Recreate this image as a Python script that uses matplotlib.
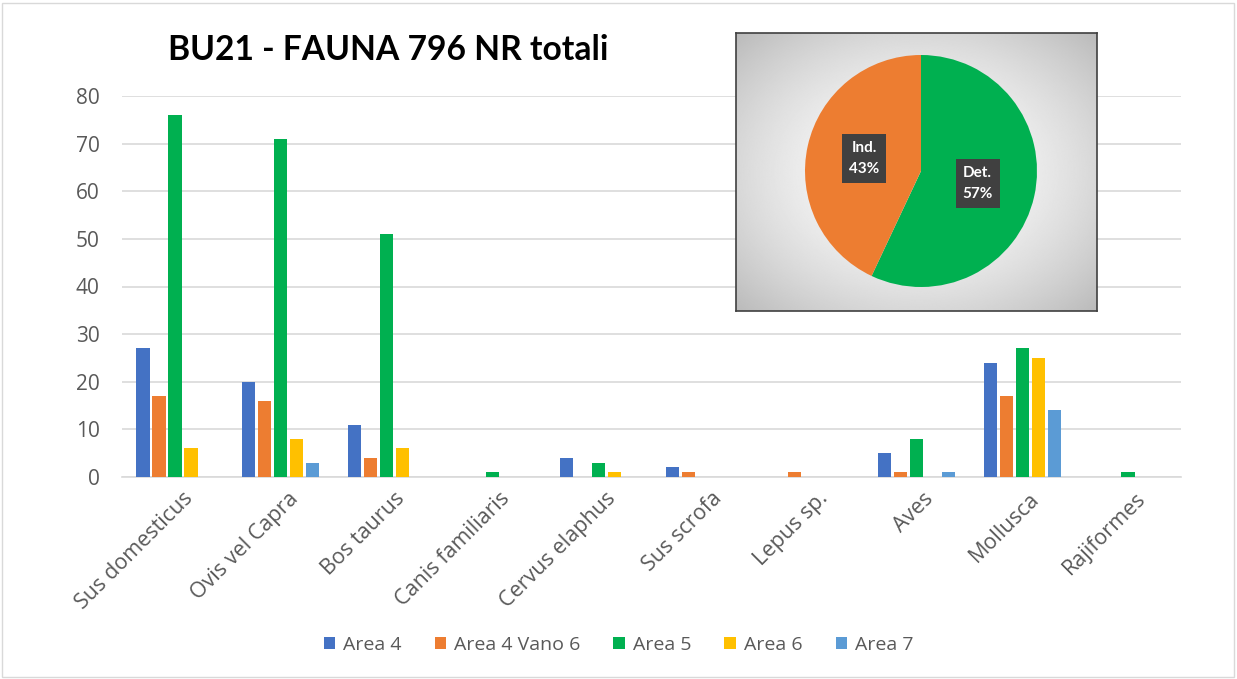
import matplotlib
matplotlib.use("Agg")
import matplotlib.pyplot as plt
import matplotlib.transforms as mtransforms
import numpy as np
from matplotlib.patches import Rectangle

plt.rcParams['font.family'] = ['Open Sans', 'DejaVu Sans']

categories = ["Sus domesticus", "Ovis vel Capra", "Bos taurus", "Canis familiaris",
              "Cervus elaphus", "Sus scrofa", "Lepus sp.", "Aves", "Mollusca", "Rajiformes"]
series_names = ["Area 4", "Area 4 Vano 6", "Area 5", "Area 6", "Area 7"]
area4 = [27, 20, 11, 0, 4, 2, 0, 5, 24, 0]
area4_vano6 = [17, 16, 4, 0, 0, 1, 1, 1, 17, 0]
area5 = [76, 71, 51, 1, 3, 0, 0, 8, 27, 1]
area6 = [6, 8, 6, 0, 1, 0, 0, 0, 25, 0]
area7 = [0, 3, 0, 0, 0, 0, 0, 1, 14, 0]
series_values = [area4, area4_vano6, area5, area6, area7]
colors = ["#4472C4", "#ED7D31", "#00B050", "#FFC000", "#5B9BD5"]

pie_labels = ["Det.", "Ind."]
pie_values = [57, 43]
pie_colors = ["#00B050", "#ED7D31"]

title = "BU21 - FAUNA 796 NR totali"

W, H = 1237, 679
fig = plt.figure(figsize=(W / 100, H / 100), dpi=100)
fig.patch.set_facecolor("white")

# outer border
fig.patches.append(Rectangle((2 / W, 2 / H), 1 - 5 / W, 1 - 5 / H, transform=fig.transFigure,
                             fill=False, edgecolor="#D9D9D9", linewidth=1))

def box(x0, y0, x1, y1):
    return [x0 / W, 1 - y1 / H, (x1 - x0) / W, (y1 - y0) / H]

ax = fig.add_axes(box(122, 96, 1181, 477))
x = np.arange(len(categories))
bw = 0.125
step = 0.151
for i, (name, vals, c) in enumerate(zip(series_names, series_values, colors)):
    ax.bar(x + (i - 2) * step, vals, width=bw, color=c, label=name, zorder=3)

ax.set_xlim(-0.5, len(categories) - 0.5)
ax.set_ylim(0, 80)
ax.set_yticks(np.arange(0, 81, 10))
ax.yaxis.grid(True, color="#D9D9D9", linewidth=1.2, zorder=0)
for s in ["top", "right", "left"]:
    ax.spines[s].set_visible(False)
ax.spines["bottom"].set_color("#D9D9D9")
ax.spines["bottom"].set_linewidth(1.2)
ax.tick_params(axis="both", length=0, colors="#595959", labelsize=15)
ax.tick_params(axis="y", pad=16)
ax.set_xticks(x)
ax.set_xticklabels(categories, rotation=45, ha="right", rotation_mode="anchor", fontsize=15.5)
ax.tick_params(axis="x", pad=8)
offset = mtransforms.ScaledTranslation(7 / 100, 0, fig.dpi_scale_trans)
for lab in ax.get_xticklabels():
    lab.set_transform(lab.get_transform() + offset)

fig.text(168 / W, 1 - 50 / H, title, fontsize=24.2, fontweight="bold", color="black",
         va="center", ha="left", family=["Lato", "DejaVu Sans"])

leg = fig.legend(loc="center", bbox_to_anchor=(0.5, 1 - 645 / H), ncol=5, frameon=False,
                 fontsize=14, handlelength=0.6, handleheight=0.6, handletextpad=0.4,
                 columnspacing=1.7, labelcolor="#595959")

# pie inset background with radial gradient
bg = fig.add_axes(box(736, 33, 1097, 311))
yy, xx = np.mgrid[-1:1:300j, -1:1:400j]
r = np.sqrt(xx ** 2 + yy ** 2) / np.sqrt(2)
grad = 1.0 - 0.27 * np.clip(r, 0, 1) ** 1.6
bg.imshow(grad, cmap="gray", vmin=0, vmax=1, aspect="auto", extent=[0, 1, 0, 1])
bg.set_xticks([]); bg.set_yticks([])
for s in bg.spines.values():
    s.set_edgecolor("#404040")
    s.set_linewidth(1.2)

pax = fig.add_axes(box(805, 55, 1037, 287))
wedges, texts = pax.pie(pie_values, colors=pie_colors, startangle=90, counterclock=False,
                        labels=[f"{l}\n{v}%" for l, v in zip(pie_labels, pie_values)],
                        labeldistance=0.5,
                        textprops=dict(color="white", fontsize=11, fontweight="bold", ha="center",
                                       va="center", linespacing=1.6,
                                       family=["Lato", "DejaVu Sans"]))
for t in texts:
    t.set_bbox(dict(boxstyle="square,pad=0.45", facecolor="#404040", edgecolor="none"))
pax.set_xlim(-1, 1)
pax.set_ylim(-1, 1)
pax.set_aspect("equal")
pax.set_facecolor("none")

fig.savefig("out.png", dpi=100, facecolor="white")
